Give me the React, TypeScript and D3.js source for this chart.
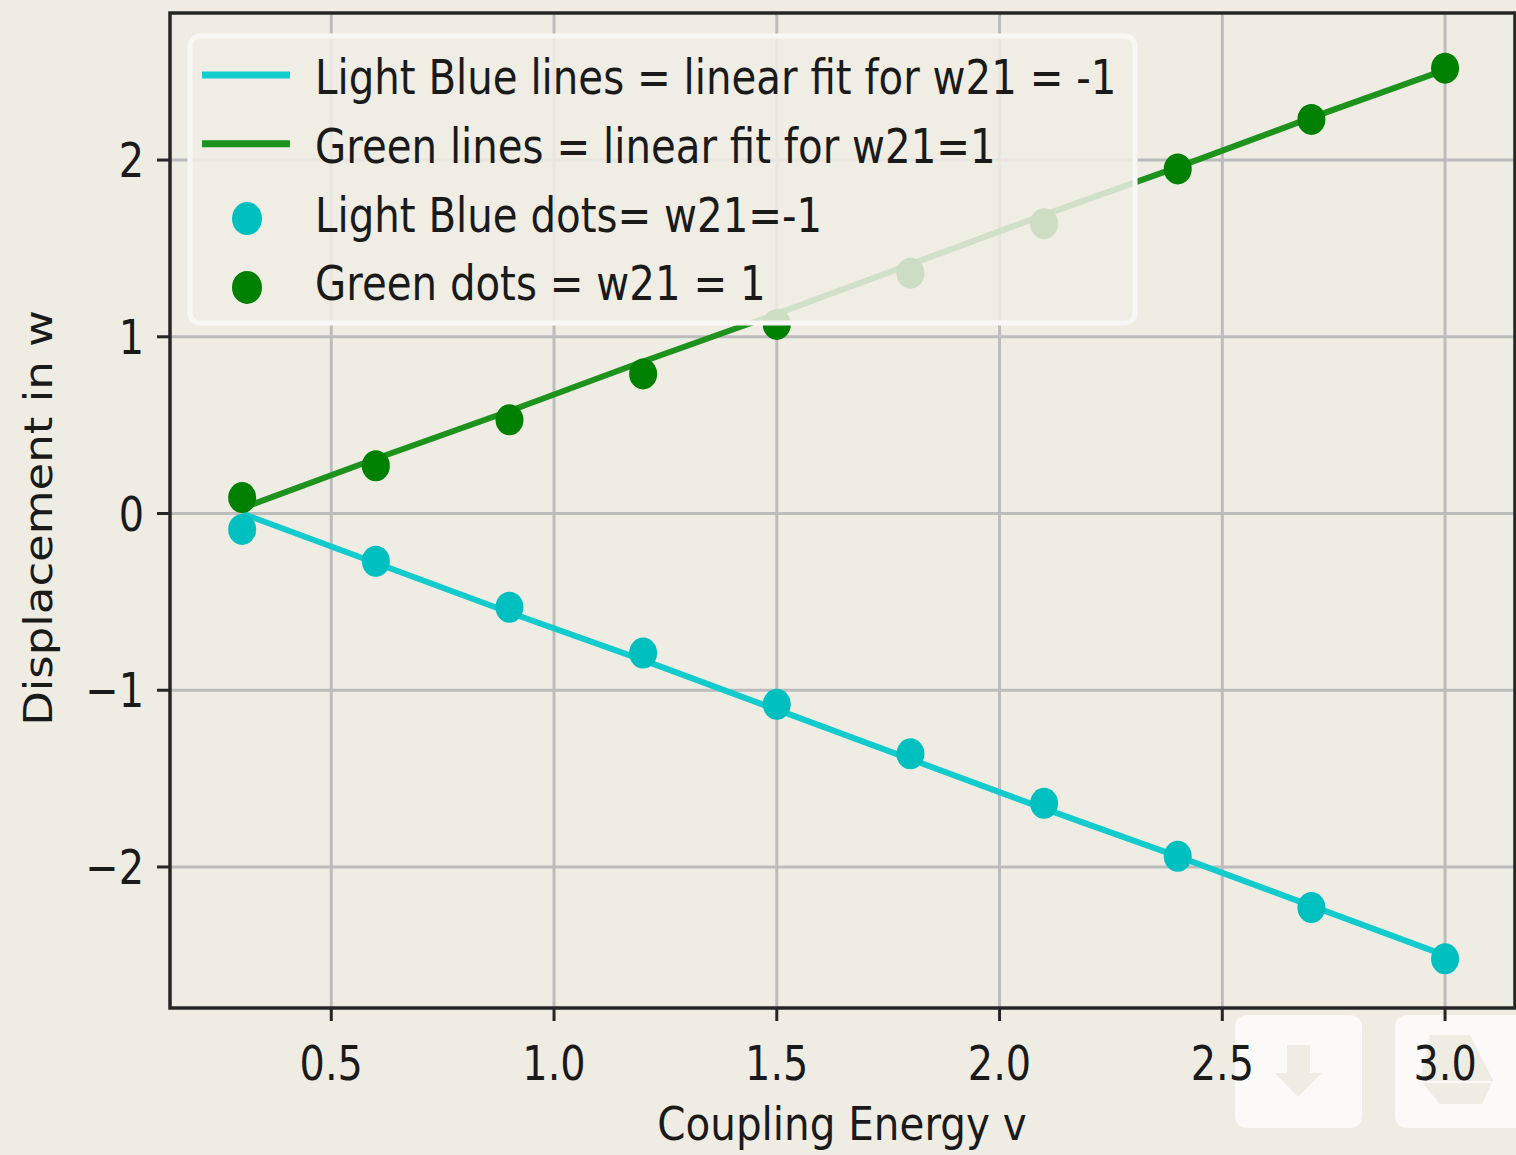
import React from "react";
import * as d3 from "d3";

// coupling energy values (x)
const couplingV = [0.3, 0.6, 0.9, 1.2, 1.5, 1.8, 2.1, 2.4, 2.7, 3.0];
// measured displacement, w21 = 1 (green dots)
const greenDots = [0.09, 0.27, 0.53, 0.79, 1.07, 1.36, 1.64, 1.95, 2.23, 2.52];
// measured displacement, w21 = -1 (light blue dots)
const blueDots = [-0.09, -0.27, -0.53, -0.79, -1.08, -1.36, -1.64, -1.94, -2.23, -2.52];
// linear fits evaluated at couplingV
const greenFit = [0.03, 0.31, 0.58, 0.86, 1.13, 1.41, 1.69, 1.96, 2.24, 2.51];
const blueFit = [0.0, -0.28, -0.56, -0.83, -1.11, -1.39, -1.67, -1.94, -2.22, -2.5];

const xTicks = [0.5, 1.0, 1.5, 2.0, 2.5, 3.0];
const yTicks = [-2, -1, 0, 1, 2];

const legendItems = [
  { label: "Light Blue lines = linear fit for w21 = -1", kind: "line", color: "#12cbcc" },
  { label: "Green lines = linear fit for w21=1", kind: "line", color: "#1d921d" },
  { label: "Light Blue dots= w21=-1", kind: "dot", color: "#00bfbf" },
  { label: "Green dots = w21 = 1", kind: "dot", color: "#008000" },
];

const BG = "#efece4";
const FONT = "DejaVu Sans";

function App() {
  const W = 1516;
  const H = 1155;
  const left = 170;
  const right = 1515;
  const top = 13;
  const bottom = 1008;

  const x = d3.scaleLinear().domain([0.138, 3.157]).range([left, right]);
  const y = d3.scaleLinear().domain([-2.798, 2.832]).range([bottom, top]);

  const line = d3
    .line<number>()
    .x((_, i) => x(couplingV[i]))
    .y((d) => y(d));

  const tickFmt = d3.format(".1f");
  const sx = 0.83;

  return (
    <svg
      width={W}
      height={H}
      style={{ position: "absolute", left: 0, top: 0, background: BG }}
      fontFamily={FONT}
    >
      <rect x={0} y={0} width={W} height={H} fill={BG} />

      {/* grid */}
      <g stroke="#bcbcbc" strokeWidth={3}>
        {xTicks.map((t) => (
          <line key={"gx" + t} x1={x(t)} x2={x(t)} y1={top} y2={bottom} />
        ))}
        {yTicks.map((t) => (
          <line key={"gy" + t} x1={left} x2={right} y1={y(t)} y2={y(t)} />
        ))}
      </g>

      {/* fit lines */}
      <path d={line(blueFit) || ""} fill="none" stroke="#12cbcc" strokeWidth={6} />
      <path d={line(greenFit) || ""} fill="none" stroke="#1d921d" strokeWidth={6} />

      {/* dots */}
      {blueDots.map((v, i) => (
        <ellipse key={"b" + i} cx={x(couplingV[i])} cy={y(v)} rx={14} ry={15.5} fill="#00bfbf" />
      ))}
      {greenDots.map((v, i) => (
        <ellipse key={"g" + i} cx={x(couplingV[i])} cy={y(v)} rx={14} ry={15.5} fill="#008000" />
      ))}

      {/* legend */}
      <g>
        <rect
          x={190}
          y={36}
          width={945}
          height={287}
          rx={10}
          fill={BG}
          fillOpacity={0.86}
          stroke="#f7f7f5"
          strokeWidth={5}
        />
        {legendItems.map((it, i) => {
          const base = 94 + i * 68.8;
          return (
            <g key={it.label}>
              {it.kind === "line" ? (
                <line x1={202} x2={290} y1={base - 19} y2={base - 19} stroke={it.color} strokeWidth={7} />
              ) : (
                <ellipse cx={247} cy={base - 13} rx={15} ry={16.5} fill={it.color} />
              )}
              <text
                transform={`translate(315,${base}) scale(0.84,1)`}
                fontSize={48}
                fill="#1a1a1a"
              >
                {it.label}
              </text>
            </g>
          );
        })}
      </g>

      {/* spines */}
      <rect x={left} y={top} width={right - left} height={bottom - top} fill="none" stroke="#262626" strokeWidth={3.5} />

      {/* toolbar buttons */}
      <g>
        <rect x={1235} y={1015} width={127} height={113} rx={12} fill="#fbfaf8" />
        <path d="M1287,1045 L1310,1045 L1310,1073 L1322,1073 L1298,1097 L1275,1073 L1287,1073 Z" fill={BG} />
        <rect x={1395} y={1015} width={140} height={113} rx={12} fill="#fbfaf8" />
        <path d="M1430,1035 L1470,1035 L1493,1080 L1482,1104 L1440,1104 L1420,1080 Z" fill={BG} />
        <line x1={1422} x2={1491} y1={1082} y2={1082} stroke="#fbfaf8" strokeWidth={2} />
      </g>

      {/* x ticks */}
      {xTicks.map((t) => (
        <g key={"xt" + t}>
          <line x1={x(t)} x2={x(t)} y1={bottom} y2={bottom + 13} stroke="#262626" strokeWidth={3} />
          <text
            transform={`translate(${x(t)},1080) scale(${sx},1)`}
            textAnchor="middle"
            fontSize={48}
            fill="#1a1a1a"
          >
            {tickFmt(t)}
          </text>
        </g>
      ))}

      {/* y ticks */}
      {yTicks.map((t) => (
        <g key={"yt" + t}>
          <line x1={left - 13} x2={left} y1={y(t)} y2={y(t)} stroke="#262626" strokeWidth={3} />
          <text
            transform={`translate(144,${y(t) + 17}) scale(${sx},1)`}
            textAnchor="end"
            fontSize={48}
            fill="#1a1a1a"
          >
            {t < 0 ? "\u2212" + Math.abs(t) : String(t)}
          </text>
        </g>
      ))}

      {/* axis labels */}
      <text
        transform="translate(842,1140) scale(0.88,1)"
        textAnchor="middle"
        fontSize={46}
        fill="#1a1a1a"
      >
        Coupling Energy v
      </text>
      <text
        transform="translate(52,518) scale(0.86,1) rotate(-90)"
        textAnchor="middle"
        fontSize={45}
        fill="#1a1a1a"
      >
        Displacement in w
      </text>
    </svg>
  );
}

export default App;
